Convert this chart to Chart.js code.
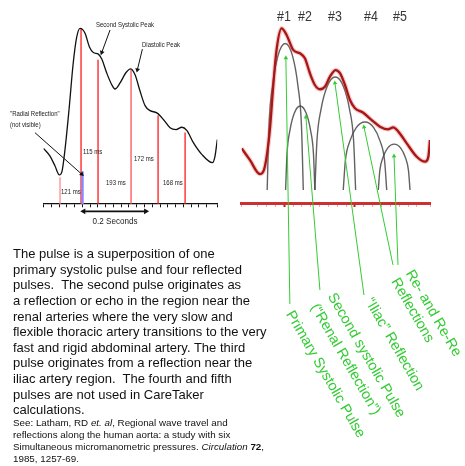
<!DOCTYPE html>
<html>
<head>
<meta charset="utf-8">
<script src="https://cdn.jsdelivr.net/npm/chart.js@4.4.1/dist/chart.umd.min.js"></script>
<style>
  html, body { margin: 0; padding: 0; background: #fff; }
  body { width: 465px; height: 466px; position: relative; overflow: hidden; font-family: "Liberation Sans", Arial, sans-serif; }
  canvas { position: absolute; }
  #pulseChart { left: 0; top: 0; }
  #waveChart { left: 235px; top: 0; }
  .lbl { position: absolute; white-space: nowrap; line-height: 1; color: #222; font-family: "Liberation Sans", Arial, sans-serif; }
  .sm { font-size: 7.5px; transform: scaleX(0.8); transform-origin: 0 50%; }
  .num { font-size: 15px; color: #383838; transform: translate(-50%, -50%) scaleX(0.83); }
  .green { position: absolute; white-space: nowrap; line-height: 1; font-size: 14.5px; color: #33cc33;
           transform: translate(-50%, -50%) rotate(60deg); }
  #body { position: absolute; left: 13px; top: 246.2px; font-size: 13px; line-height: 15.6px; white-space: pre; color: #111; }
  #ref { position: absolute; left: 13px; top: 417.3px; font-size: 9.8px; line-height: 12px; white-space: pre; color: #111; }
</style>
</head>
<body>
<canvas id="pulseChart" width="235" height="230"></canvas>
<canvas id="waveChart" width="230" height="466"></canvas>

<div class="lbl sm" style="left:96px;top:21.2px">Second Systolic Peak</div>
<div class="lbl sm" style="left:142px;top:41.2px">Diastolic Peak</div>
<div class="lbl sm" style="left:10px;top:109.5px">"Radial Reflection"</div>
<div class="lbl sm" style="left:10px;top:120.7px">(not visible)</div>
<div id="intervals"></div>
<div class="lbl" style="left:115px;top:221px;font-size:9.5px;transform:translate(-50%,-50%) scaleX(0.85)">0.2 Seconds</div>

<div id="numbers"></div>

<div class="green" style="left:325.5px;top:374.2px">Primary Systolic Pulse</div>
<div class="green" style="left:366.7px;top:355px">Second systolic Pulse</div>
<div class="green" style="left:345.8px;top:359.2px">(“Renal Reflection”)</div>
<div class="green" style="left:395.3px;top:344.2px">“Iliac” Reflection</div>
<div class="green" style="left:434.2px;top:313.3px">Re- and Re-Re</div>
<div class="green" style="left:413px;top:310px">Reflections</div>

<div id="body">The pulse is a superposition of one
primary systolic pulse and four reflected
pulses.  The second pulse originates as
a reflection or echo in the region near the
renal arteries where the very slow and
flexible thoracic artery transitions to the very
fast and rigid abdominal artery. The third
pulse originates from a reflection near the
iliac artery region.  The fourth and fifth
pulses are not used in CareTaker
calculations.</div>
<div id="ref">See: Latham, RD <i>et. al</i>, Regional wave travel and
reflections along the human aorta: a study with six
Simultaneous micromanometric pressures. <i>Circulation</i> <b>72</b>,
1985, 1257-69.</div>

<script>
// left panel: radial pulse, time in ms from the primary peak, level in arbitrary units
var pulseTime = [-120, -99.8, -84.4, -71.1, -62.8, -53.5, -41.1, -28.7, -17.9, -7.1,
  8.3, 21.6, 34, 49.5, 60, 75.4, 90.9, 101, 116.5, 135,
  149.6, 162.9, 178.4, 193.8, 209.3, 230, 250.4, 271, 289.6, 307.3,
  322.7, 343, 369, 401.9, 410, 417];
var pulseLevel = [31.5, 27.1, 21.5, 16.5, 18.5, 30.9, 53.4, 78.7, 93.8, 99.2,
  96.5, 88.9, 85.6, 84.7, 81.9, 74, 67.4, 65, 68.4, 74.3,
  76.4, 73, 63.7, 55.6, 52.8, 51.5, 47.8, 43.1, 42.1, 43.4,
  41.6, 34.7, 28.1, 23.4, 27.1, 36.5];

// reflection markers (red lines) and the hidden radial reflection (blue)
var markTime = [-68.9, -4, 48.5, 150.5, 234, 317.5];
var markTop = [15.2, 99.4, 81.5, 75.8, 50, 40.4];
var radialTime = [0.6];
var radialTop = [18.5];
var intervalText = ['121 ms', '115 ms', '193 ms', '172 ms', '168 ms'];

// right panel: aortic pulse and its five component pulses
var waveTime = [-120, -97, -68.7, -54.6, -40.5, -31.1, -21.5, -7.4, 6.8, 25.5,
  44.4, 58.5, 72.7, 86.8, 101, 115.1, 129.3, 145.4, 157.6, 171.8,
  185.9, 200.1, 223.5, 247.2, 270.7, 294.2, 308.3, 322.5, 346.3, 374.5,
  398, 407.4, 412];
var waveLevel = [30.7, 24.2, 16.3, 20.4, 41, 65.3, 86, 98.1, 94.4, 86,
  84.1, 81.3, 72.9, 66.3, 63.9, 65.3, 71, 74.7, 72.9, 66.3,
  57.9, 53.2, 50.7, 46.6, 42.9, 41.4, 42.5, 40.1, 33.5, 26,
  23.2, 26, 35.4];

var archTime = [
  [-48, -42.9, -32.7, -17.4, 3, 23.4, 38.7, 48.9, 54],
  [4, 8.1, 16.4, 28.8, 45.4, 62, 74.4, 82.7, 86.8],
  [86.8, 92.6, 104.1, 121.4, 144.4, 167.4, 184.7, 196.2, 201.9],
  [166.9, 173, 185.3, 203.7, 228.3, 252.9, 271.3, 283.6, 289.7],
  [265.9, 270.4, 279.4, 292.8, 310.8, 328.8, 342.2, 351.1, 355.6]
];
var archLevel = [
  [7.3, 43.2, 66.1, 82.8, 89.6, 82.8, 66.1, 43.2, 7.3],
  [7.3, 27.9, 41, 50.6, 54.5, 50.6, 41, 27.9, 7.3],
  [7.3, 35, 52.6, 65.5, 70.8, 65.5, 52.6, 35, 7.3],
  [7.3, 24, 34.6, 42.3, 45.5, 42.3, 34.6, 24, 7.3],
  [7.3, 18.5, 25.7, 31, 33.1, 31, 25.7, 18.5, 7.3]
];
var pulseNames = ['#1', '#2', '#3', '#4', '#5'];


function xy(xs, ys) {
  return xs.map(function (x, i) { return { x: x, y: ys[i] }; });
}

// rotate the triangle so it points away from the other end of the segment
function headAngle(ctx) {
  var pts = ctx.dataset.data;
  var i = ctx.dataIndex;
  var o = pts[i === 0 ? 1 : 0];
  var sx = ctx.chart.scales.x, sy = ctx.chart.scales.y;
  var dx = sx.getPixelForValue(pts[i].x) - sx.getPixelForValue(o.x);
  var dy = sy.getPixelForValue(pts[i].y) - sy.getPixelForValue(o.y);
  return Math.atan2(dx, -dy) * 180 / Math.PI;
}

function arrow(from, to, color, heads, width) {
  return {
    data: [{ x: from[0], y: from[1] }, { x: to[0], y: to[1] }],
    borderColor: color,
    borderWidth: width,
    pointBackgroundColor: color,
    pointBorderWidth: 0,
    pointStyle: 'triangle',
    pointRadius: heads,
    pointRotation: headAngle,
    clip: false
  };
}

function stick(t, top, color, width) {
  return {
    data: [{ x: t, y: 0 }, { x: t, y: top }],
    borderColor: color,
    borderWidth: width,
    pointRadius: 0
  };
}


//stampo il grafico di sinistra

var markColors = ['#ff8c8c', '#ff1a1a', '#ff1a1a', '#ff5050', '#ff1a1a', '#ff1a1a'];

var leftSets = [{
  data: xy(pulseTime, pulseLevel),
  borderColor: '#111',
  borderWidth: 1.3,
  pointRadius: 0,
  cubicInterpolationMode: 'monotone'
}];
leftSets.push(arrow([85.6, 98.3], [60, 85.6], '#111', [0, 2.8], 1));
leftSets.push(arrow([185.5, 87.5], [170, 75.8], '#111', [0, 2.8], 1));
leftSets.push(arrow([-146.2, 40.3], [-1.9, 16.9], '#111', [0, 2.8], 1));
leftSets.push(arrow([4, -4.1], [196, -4.1], '#111', [3.4, 3.4], 1.6));
radialTime.forEach(function (t, i) {
  leftSets.push(stick(t, radialTop[i], '#8a8aff', 2.4));
});
markTime.forEach(function (t, i) {
  leftSets.push(stick(t, markTop[i], markColors[i], 1.3));
});

var pulseChart = new Chart(document.getElementById('pulseChart'), {
  type: 'line',
  data: { datasets: leftSets },
  options: {
    responsive: false,
    animation: false,
    events: [],
    layout: { padding: { left: 43.5, right: 17.7, top: 27, bottom: 3 } },
    plugins: { legend: { display: false }, tooltip: { enabled: false } },
    scales: {
      x: {
        type: 'linear', min: -120, max: 417, offset: false,
        position: { y: 0 },
        border: { display: true, color: '#111', width: 1.3 },
        grid: { drawOnChartArea: false, drawTicks: true, tickLength: 3, tickColor: '#111', tickWidth: 1 },
        ticks: { display: false, stepSize: 24 }
      },
      y: { display: false, min: -12.36, max: 100 }
    }
  }
});

// interval labels between the markers
var intervalPos = [[61, 191.7], [83, 151.7], [106, 182.7], [134, 158.3], [163.3, 182.7]];
document.getElementById('intervals').innerHTML = intervalText.map(function (s, i) {
  return '<div class="lbl sm" style="left:' + intervalPos[i][0] + 'px;top:' + (intervalPos[i][1] - 3.75) + 'px">' + s + '</div>';
}).join('');


//stampo il grafico di destra

var rightSets = [];
var tips = [[4.8, 81.5], [61.4, 48.3], [143.4, 67.4], [225.5, 42.7], [310.3, 26.4]];
var ends = [[16.1, -56.7], [101, -48.9], [225.5, -51.7], [307.5, -34.8], [321.6, -34.8]];
tips.forEach(function (p, i) {
  rightSets.push(arrow(p, ends[i], '#33cc33', [2.6, 0], 1));
});
rightSets.push({
  data: xy(waveTime, waveLevel),
  borderColor: '#a81616',
  borderWidth: 2.3,
  pointRadius: 0,
  cubicInterpolationMode: 'monotone'
});
rightSets.push({
  data: xy(waveTime, waveLevel),
  borderColor: 'rgba(220, 80, 80, 0.3)',
  borderWidth: 4.6,
  pointRadius: 0,
  cubicInterpolationMode: 'monotone'
});
archTime.forEach(function (ts, i) {
  rightSets.push({
    data: xy(ts, archLevel[i]),
    borderColor: 'rgba(70, 70, 70, 0.85)',
    borderWidth: 1.4,
    pointRadius: 0,
    cubicInterpolationMode: 'monotone'
  });
});

var waveChart = new Chart(document.getElementById('waveChart'), {
  type: 'line',
  data: { datasets: rightSets },
  options: {
    responsive: false,
    animation: false,
    events: [],
    layout: { padding: { left: 6.7, right: 35, top: 25, bottom: 259 } },
    plugins: { legend: { display: false }, tooltip: { enabled: false } },
    scales: {
      x: {
        type: 'linear', min: -120, max: 412, offset: false,
        border: { display: true, color: '#cc3030', width: 3 },
        grid: {
          drawOnChartArea: false, drawTicks: true, tickLength: 4,
          tickColor: function (c) { return c.tick && c.tick.value % 200 === 0 ? '#c01818' : 'rgba(210, 90, 90, 0.5)'; },
          tickWidth: function (c) { return c.tick && c.tick.value % 200 === 0 ? 2 : 1; }
        },
        ticks: { display: false, stepSize: 25 }
      },
      y: { display: false, min: 0, max: 100 }
    }
  }
});

var numberPos = [283.5, 305.3, 335.3, 370.8, 400];
document.getElementById('numbers').innerHTML = pulseNames.map(function (s, i) {
  return '<div class="lbl num" style="left:' + numberPos[i] + 'px;top:15px">' + s + '</div>';
}).join('');
</script>
</body>
</html>
